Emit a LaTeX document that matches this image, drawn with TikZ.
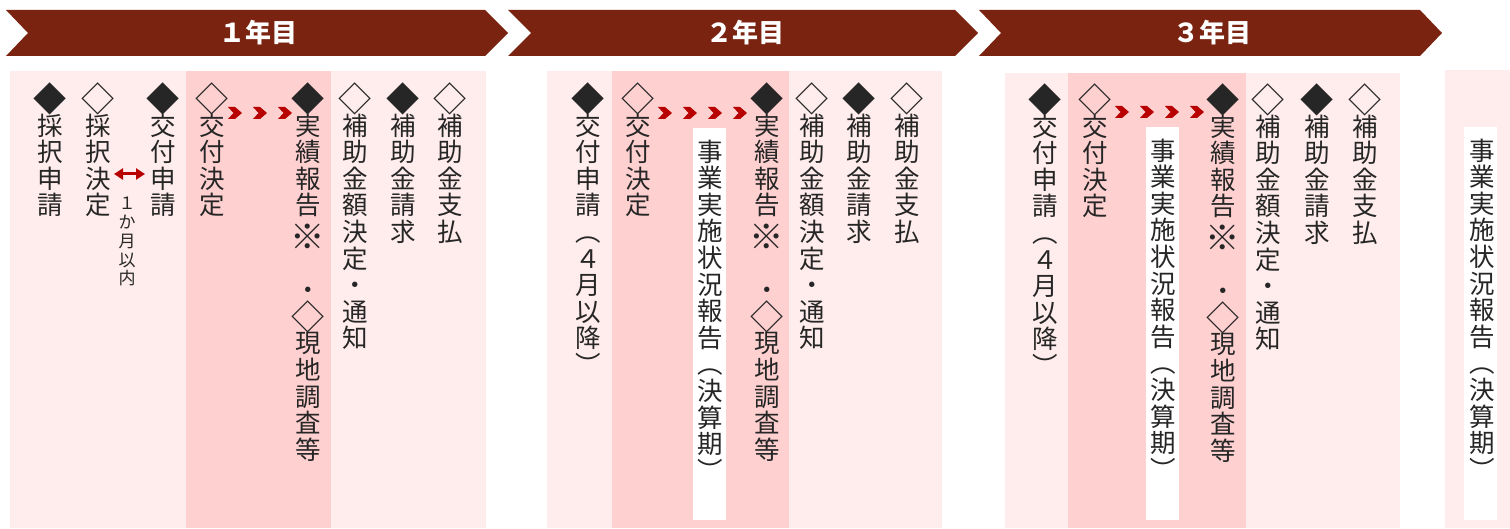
\documentclass[tikz,border=0pt]{standalone}
\usepackage{fontspec}
\usepackage{graphicx}
\newfontfamily\jp{Noto Sans CJK JP}
\definecolor{hdr}{HTML}{7A2310}
\definecolor{pinkL}{HTML}{FFECEC}
\definecolor{pinkD}{HTML}{FFD0D0}
\definecolor{ared}{HTML}{B80000}
\definecolor{txt}{HTML}{262626}
\makeatletter
\newcommand\tgap{}
\def\tgapmark{\tgap}
\newcommand\tate[2][26.6pt]{\vbox{\baselineskip=#1\relax\lineskiplimit=-\maxdimen\lineskip=0pt
  \@tfor\tt@c:=#2\do{\ifx\tt@c\tgapmark\vskip5pt\else\hbox to 1em{\hss\rule[-.12em]{0pt}{1em}\tt@c\hss}\fi}}}
\makeatother
\newcommand\bigkome{\raisebox{-0.14em}{\scalebox{1.35}{※}}}
\newcommand\blkd{\raisebox{-0.12em}{\scalebox{1.3}{◆}}}
\newcommand\whtd{\raisebox{-0.12em}{\scalebox{1.3}{◇}}}
\tikzset{
  col/.style={anchor=north, inner sep=0pt, font=\jp\fontsize{25.5}{26.6}\selectfont, text=txt},
  smallcol/.style={anchor=north, inner sep=0pt, font=\jp\fontsize{17}{18.8}\selectfont, text=txt},
  hdrtxt/.style={inner sep=0pt, font=\jp\bfseries\fontsize{26}{30}\selectfont, text=white},
  band/.style={fill=hdr},
  lightp/.style={fill=pinkL},
  darkp/.style={fill=pinkD},
  strip/.style={fill=white},
  chev/.pic={\fill[ared] (0,-6) -- (7,-6) -- (14,0) -- (7,6) -- (0,6) -- (5.5,0) -- cycle;},
  dbl/.style={ared, line width=3pt, {Triangle[length=9pt,width=11pt]}-{Triangle[length=9pt,width=11pt]}}
}
\usetikzlibrary{arrows.meta}
\begin{document}
\begin{tikzpicture}[x=1pt,y=-1pt]
\useasboundingbox (0,0) rectangle (1510,529);
% header chevrons
\fill[band] (6,10) -- (485,10) -- (508,33) -- (485,56) -- (6,56) -- (28,33) -- cycle;
\fill[band] (508,10) -- (955,10) -- (978,33) -- (955,56) -- (508,56) -- (531,33) -- cycle;
\fill[band] (979,10) -- (1420,10) -- (1442,33) -- (1420,56) -- (979,56) -- (1001,33) -- cycle;
\node[hdrtxt] (h1) at (258,33) {１年目};
\node[hdrtxt] (h2) at (745,33) {２年目};
\node[hdrtxt] (h3) at (1212,33) {３年目};
% panels
\fill[lightp] (10,71) rectangle (486,528);
\fill[darkp] (186,71) rectangle (331,528);
\fill[lightp] (547,71) rectangle (942,528);
\fill[darkp] (612,71) rectangle (789,528);
\fill[strip] (693,128) rectangle (726,520);
\fill[lightp] (1005,73) rectangle (1400,528);
\fill[darkp] (1068,73) rectangle (1246,528);
\fill[strip] (1146,127) rectangle (1179,520);
\fill[lightp] (1445,70) rectangle (1510,528);
\fill[strip] (1464,127) rectangle (1497,520);
% year 1
\node[col] (a1) at (50,82.5) {\tate{{\blkd}採択申請}};
\node[col] (a2) at (98,82.5) {\tate{{\whtd}採択決定}};
\node[col] (a3) at (163,82.5) {\tate{{\blkd}交付申請}};
\node[col] (a4) at (212,82.5) {\tate{{\whtd}交付決定}};
\node[col] (a5) at (308,82.5) {\tate{{\blkd}実績報告\tgap{\bigkome}　・{\whtd}現地調査等}};
\node[col] (a6) at (355,82.5) {\tate{{\whtd}補助金額決定・通知}};
\node[col] (a7) at (403,82.5) {\tate{{\blkd}補助金請求}};
\node[col] (a8) at (450,82.5) {\tate{{\whtd}補助金支払}};
\node[smallcol] (a9) at (127,194.5) {\tate[18.8pt]{１か月以内}};
\coordinate (d1) at (114,174);
\coordinate (d2) at (145,174);
\draw[dbl] (d1) -- (d2);
\pic at (228,113) {chev};
\pic at (253,113) {chev};
\pic at (278,113) {chev};
% year 2
\node[col] (b1) at (588,82.5) {\tate{{\blkd}交付申請︵４月以降︶}};
\node[col] (b2) at (638,82.5) {\tate{{\whtd}交付決定}};
\node[col] (b3) at (710,138.5) {\tate{事業実施状況報告︵決算期︶}};
\node[col] (b4) at (767,82.5) {\tate{{\blkd}実績報告\tgap{\bigkome}　・{\whtd}現地調査等}};
\node[col] (b5) at (812,82.5) {\tate{{\whtd}補助金額決定・通知}};
\node[col] (b6) at (859,82.5) {\tate{{\blkd}補助金請求}};
\node[col] (b7) at (907,82.5) {\tate{{\whtd}補助金支払}};
\pic at (658,113) {chev};
\pic at (683,113) {chev};
\pic at (708,113) {chev};
\pic at (733,113) {chev};
% year 3
\node[col] (c1) at (1045,83.5) {\tate{{\blkd}交付申請︵４月以降︶}};
\node[col] (c2) at (1095,83.5) {\tate{{\whtd}交付決定}};
\node[col] (c3) at (1163,137.5) {\tate{事業実施状況報告︵決算期︶}};
\node[col] (c4) at (1223,83.5) {\tate{{\blkd}実績報告\tgap{\bigkome}　・{\whtd}現地調査等}};
\node[col] (c5) at (1268,83.5) {\tate{{\whtd}補助金額決定・通知}};
\node[col] (c6) at (1317,83.5) {\tate{{\blkd}補助金請求}};
\node[col] (c7) at (1365,83.5) {\tate{{\whtd}補助金支払}};
\pic at (1115,112) {chev};
\pic at (1140,112) {chev};
\pic at (1165,112) {chev};
\pic at (1190,112) {chev};
% far right
\node[col] (e1) at (1482,137.5) {\tate{事業実施状況報告︵決算期︶}};
\end{tikzpicture}
\end{document}
